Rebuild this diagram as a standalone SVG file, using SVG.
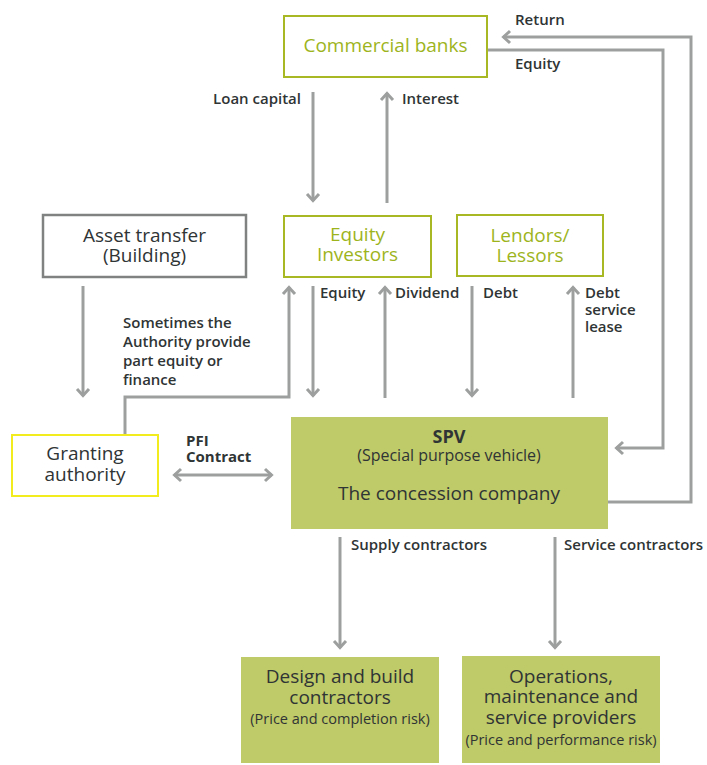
<svg xmlns="http://www.w3.org/2000/svg" width="707" height="765" viewBox="0 0 707 765">
  <defs>
    <style>
      .lbl { font-family: "Open Sans", "Liberation Sans", sans-serif; font-size: 15px; font-weight: 600; fill: #2f3435; }
      .bold { font-weight: 700; }
      .node { font-family: "Open Sans", "Liberation Sans", sans-serif; font-size: 19px; font-weight: 500; fill: #2f3435; text-anchor: middle; }
      .olive { fill: #9db41c; }
      .small { font-size: 14.5px; }
      .spv-title { font-size: 18px; font-weight: 700; }
      .spv-sub { font-size: 16px; }
      .box-olive { fill: #ffffff; stroke: #a7b824; stroke-width: 2; }
      .box-gray { fill: #ffffff; stroke: #808282; stroke-width: 2.5; }
      .box-yellow { fill: #ffffff; stroke: #f2ec1e; stroke-width: 2; }
      .box-fill { fill: #bfca68; }
      .wire { fill: none; stroke: #9d9f9f; stroke-width: 3; }
    </style>
    <marker id="head" viewBox="-10 -8 12 16" refX="0" refY="0" markerWidth="12" markerHeight="16" markerUnits="userSpaceOnUse" orient="auto-start-reverse">
      <path d="M-7,-6 L-0.5,0 L-7,6" fill="none" stroke="#9d9f9f" stroke-width="3"/>
    </marker>
  </defs>

  <rect width="707" height="765" fill="#ffffff"/>

  <!-- connectors -->
  <g id="connectors">
    <!-- banks <-> equity investors -->
    <path class="wire" d="M313,92 V201" marker-end="url(#head)"/>
    <path class="wire" d="M387,203 V93" marker-end="url(#head)"/>
    <!-- equity investors <-> SPV -->
    <path class="wire" d="M313,286 V396" marker-end="url(#head)"/>
    <path class="wire" d="M385,398 V287" marker-end="url(#head)"/>
    <!-- lenders <-> SPV -->
    <path class="wire" d="M472,286 V396" marker-end="url(#head)"/>
    <path class="wire" d="M573,398 V287" marker-end="url(#head)"/>
    <!-- asset transfer -> granting authority -->
    <path class="wire" d="M83,286 V396" marker-end="url(#head)"/>
    <!-- authority part equity -> equity investors -->
    <path class="wire" d="M125,435 V397 H289 V287" marker-end="url(#head)"/>
    <!-- PFI contract -->
    <path class="wire" d="M174,475 H272" marker-start="url(#head)" marker-end="url(#head)"/>
    <!-- return: SPV -> commercial banks -->
    <path class="wire" d="M608,502 H691 V37 H503" marker-end="url(#head)"/>
    <!-- equity: commercial banks -> SPV -->
    <path class="wire" d="M488,50 H663 V448 H616" marker-end="url(#head)"/>
    <!-- SPV -> contractors -->
    <path class="wire" d="M340,537 V648" marker-end="url(#head)"/>
    <path class="wire" d="M555,537 V648" marker-end="url(#head)"/>
  </g>

  <!-- connector labels -->
  <g id="labels">
    <text class="lbl" x="515" y="25">Return</text>
    <text class="lbl" x="515" y="69">Equity</text>
    <text class="lbl" x="301" y="104" text-anchor="end">Loan capital</text>
    <text class="lbl" x="402" y="104">Interest</text>
    <text class="lbl" x="320" y="298">Equity</text>
    <text class="lbl" x="395" y="298">Dividend</text>
    <text class="lbl" x="483" y="298">Debt</text>
    <text class="lbl" x="585" y="298">Debt</text>
    <text class="lbl" x="585" y="315">service</text>
    <text class="lbl" x="585" y="332">lease</text>
    <text class="lbl" x="123" y="328">Sometimes the</text>
    <text class="lbl" x="123" y="347">Authority provide</text>
    <text class="lbl" x="123" y="366">part equity or</text>
    <text class="lbl" x="123" y="385">finance</text>
    <text class="lbl bold" x="186" y="446">PFI</text>
    <text class="lbl bold" x="186" y="462">Contract</text>
    <text class="lbl" x="351" y="550">Supply contractors</text>
    <text class="lbl" x="564" y="550">Service contractors</text>
  </g>

  <g id="commercial-banks">
    <rect class="box-olive" x="284" y="16" width="203" height="61"/>
    <text class="node olive" x="385.5" y="52">Commercial banks</text>
  </g>

  <g id="equity-investors">
    <rect class="box-olive" x="284" y="216" width="147" height="61"/>
    <text class="node olive" x="357.5" y="241">Equity</text>
    <text class="node olive" x="357.5" y="261">Investors</text>
  </g>

  <g id="lenders-lessors">
    <rect class="box-olive" x="457" y="215" width="146" height="61"/>
    <text class="node olive" x="530" y="242">Lendors/</text>
    <text class="node olive" x="530" y="262">Lessors</text>
  </g>

  <g id="asset-transfer">
    <rect class="box-gray" x="43" y="215" width="203" height="62"/>
    <text class="node" x="144.5" y="242">Asset transfer</text>
    <text class="node" x="144.5" y="262">(Building)</text>
  </g>

  <g id="granting-authority">
    <rect class="box-yellow" x="12" y="435" width="146" height="61"/>
    <text class="node" x="85" y="460">Granting</text>
    <text class="node" x="85" y="481">authority</text>
  </g>

  <g id="spv">
    <rect class="box-fill" x="291" y="417" width="317" height="112"/>
    <text class="node spv-title" x="449" y="443">SPV</text>
    <text class="node spv-sub" x="449" y="461">(Special purpose vehicle)</text>
    <text class="node" x="449" y="500">The concession company</text>
  </g>

  <g id="design-build">
    <rect class="box-fill" x="241" y="657" width="198" height="106"/>
    <text class="node" x="340" y="683">Design and build</text>
    <text class="node" x="340" y="704">contractors</text>
    <text class="node small" x="340" y="724">(Price and completion risk)</text>
  </g>

  <g id="operations">
    <rect class="box-fill" x="462" y="656" width="198" height="107"/>
    <text class="node" x="561" y="683">Operations,</text>
    <text class="node" x="561" y="703">maintenance and</text>
    <text class="node" x="561" y="724">service providers</text>
    <text class="node small" x="561" y="745">(Price and performance risk)</text>
  </g>
</svg>
